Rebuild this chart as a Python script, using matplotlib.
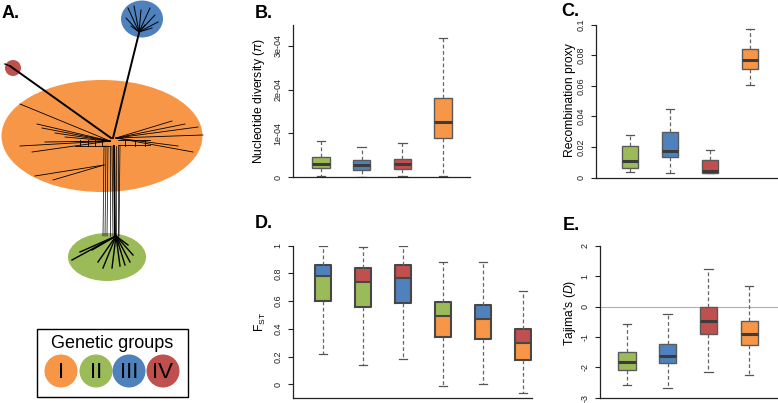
import matplotlib
matplotlib.use('Agg')
import matplotlib.pyplot as plt
from matplotlib.patches import Ellipse, Circle, Rectangle

plt.rcParams['font.family'] = ['Liberation Sans', 'DejaVu Sans']
plt.rcParams['mathtext.fontset'] = 'custom'
plt.rcParams['mathtext.rm'] = 'Liberation Sans'
plt.rcParams['mathtext.it'] = 'Liberation Sans:italic'

W, H = 778, 403
ORANGE = '#F79646'; GREEN = '#9BBB59'; BLUE = '#4F81BD'; RED = '#C0504D'
COL = {'I': ORANGE, 'II': GREEN, 'III': BLUE, 'IV': RED}

# ---------------- data ----------------
groups = ['I', 'II', 'III', 'IV']
box_groups = ['II', 'III', 'IV', 'I']

# B. nucleotide diversity
pi_whislo = [0.2e-5, 0.1e-5, 0.2e-5, 0.2e-5]
pi_q1 = [0.21e-4, 0.16e-4, 0.18e-4, 0.90e-4]
pi_med = [0.30e-4, 0.27e-4, 0.29e-4, 1.27e-4]
pi_q3 = [0.46e-4, 0.38e-4, 0.42e-4, 1.81e-4]
pi_whishi = [0.82e-4, 0.68e-4, 0.78e-4, 3.18e-4]
pi_ticks = [0, 1e-4, 2e-4, 3e-4]
pi_ticklabels = ['0', '1e-04', '2e-04', '3e-04']

# C. recombination proxy
rec_whislo = [0.0039, 0.0030, 0.0030, 0.0603]
rec_q1 = [0.0065, 0.0135, 0.0033, 0.0710]
rec_med = [0.0111, 0.0174, 0.0044, 0.0769]
rec_q3 = [0.0205, 0.0300, 0.0113, 0.0841]
rec_whishi = [0.0277, 0.0451, 0.0183, 0.0972]
rec_ticks = [0, 0.02, 0.04, 0.06, 0.08, 0.1]
rec_ticklabels = ['0', '0.02', '0.04', '0.06', '0.08', '0.1']

# D. FST (upper colour / lower colour)
fst_upper = ['III', 'IV', 'IV', 'II', 'III', 'IV']
fst_lower = ['II', 'II', 'III', 'I', 'I', 'I']
fst_whislo = [0.22, 0.137, 0.185, -0.01, 0.0, -0.065]
fst_q1 = [0.60, 0.555, 0.59, 0.344, 0.33, 0.175]
fst_med = [0.78, 0.735, 0.77, 0.495, 0.473, 0.30]
fst_q3 = [0.86, 0.84, 0.86, 0.596, 0.572, 0.40]
fst_whishi = [1.0, 0.99, 1.0, 0.88, 0.882, 0.675]
fst_ticks = [0, 0.2, 0.4, 0.6, 0.8, 1.0]
fst_ticklabels = ['0', '0.2', '0.4', '0.6', '0.8', '1']

# E. Tajima's D
taj_whislo = [-2.57, -2.67, -2.16, -2.26]
taj_q1 = [-2.09, -1.87, -0.91, -1.27]
taj_med = [-1.84, -1.62, -0.49, -0.90]
taj_q3 = [-1.49, -1.24, -0.03, -0.47]
taj_whishi = [-0.58, -0.26, 1.22, 0.69]
taj_ticks = [-3, -2, -1, 0, 1, 2]
taj_ticklabels = ['-3', '-2', '-1', '0', '1', '2']

# A. network (panel pixel coordinates)
thick_x0 = [113, 111, 114]
thick_y0 = [138, 138, 146]
thick_x1 = [139, 10, 115]
thick_y1 = [33, 66, 236]
blue_fan_x = [128, 134, 141, 150, 155, 158, 152, 126, 131, 145]
blue_fan_y = [8, 6, 10, 8, 15, 22, 28, 18, 26, 25]
orange_left_x = [20, 37, 42, 55, 20, 45, 65, 32]
orange_left_y = [104, 124, 128, 133, 146, 142, 137, 152]
orange_low_x = [35, 53]
orange_low_y = [176, 180]
orange_right_x = [172, 185, 198, 203, 193, 178]
orange_right_y = [121, 124, 127, 135, 152, 146]
trunk_top_x = [104, 106, 108, 110, 112, 116, 118, 120]
trunk_bot_x = [103, 105, 107, 110, 113, 116, 118, 119]
green_fan_x = [72, 80, 92, 98, 103, 112, 120, 125, 130, 133, 128]
green_fan_y = [260, 252, 250, 262, 268, 268, 266, 265, 262, 255, 245]

fig = plt.figure(figsize=(W / 100, H / 100), dpi=100)


def add_ax(x0, y0, x1, y1):
    return fig.add_axes([x0 / W, 1 - y1 / H, (x1 - x0) / W, (y1 - y0) / H])


def ftext(x, y, s, **kw):
    fig.text(x / W, 1 - y / H, s, **kw)


def style_ax(ax, xlim, ylim, ticks, labels):
    ax.set_xlim(xlim)
    ax.set_ylim(ylim)
    for s in ['top', 'right']:
        ax.spines[s].set_visible(False)
    for s in ['left', 'bottom']:
        ax.spines[s].set_linewidth(0.9)
        ax.spines[s].set_color('#222222')
    ax.set_xticks([])
    ax.set_yticks(ticks)
    ax.set_yticklabels(labels, rotation=90, va='center', fontsize=6.5)
    ax.tick_params(axis='y', length=3.6, width=0.8, pad=4, direction='out', colors='#222222')
    ax.patch.set_visible(False)


def make_stats(lo, q1, med, q3, hi):
    return [dict(whislo=a, q1=b, med=c, q3=d, whishi=e, fliers=[])
            for a, b, c, d, e in zip(lo, q1, med, q3, hi)]


def simple_box(ax, stats, colors):
    pos = list(range(1, len(stats) + 1))
    bp = ax.bxp(stats, positions=pos, widths=0.42, patch_artist=True, showfliers=False,
                boxprops=dict(edgecolor='#5a5a5a', linewidth=1.0),
                medianprops=dict(color='#3c3c3c', linewidth=2.2, solid_capstyle='butt'),
                whiskerprops=dict(color='#666666', linestyle=(0, (3, 2)), linewidth=0.9),
                capprops=dict(color='#555555', linewidth=0.9),
                capwidths=0.21)
    for patch, c in zip(bp['boxes'], colors):
        patch.set_facecolor(c)


# ---------------- Panel A ----------------
axA = add_ax(0, 0, 230, 403)
axA.set_xlim(0, 230)
axA.set_ylim(403, 0)
axA.axis('off')
axA.add_patch(Ellipse((102, 136), 201, 112, color=ORANGE, lw=0, zorder=1))
axA.add_patch(Ellipse((142, 19), 42, 37, color=BLUE, lw=0, zorder=1))
axA.add_patch(Circle((13, 68), 8, color=RED, lw=0, zorder=1))
axA.add_patch(Ellipse((107, 257), 78, 48, color=GREEN, lw=0, zorder=1))
for a, b, c, d in zip(thick_x0, thick_y0, thick_x1, thick_y1):
    axA.plot([a, c], [b, d], color='black', lw=1.4, zorder=3)
for x, y in zip(blue_fan_x, blue_fan_y):
    axA.plot([139, x], [32, y], color='black', lw=0.7, zorder=3)
axA.plot([10, 5], [66, 64], color='black', lw=1.0, zorder=3)
for x, y in zip(orange_left_x, orange_left_y):
    axA.plot([110, x], [141, y], color='black', lw=0.6, zorder=3)
for x, y in zip(orange_low_x, orange_low_y):
    axA.plot([104, x], [165, y], color='black', lw=0.6, zorder=3)
for x, y in zip(orange_right_x, orange_right_y):
    axA.plot([116, x], [138, y], color='black', lw=0.6, zorder=3)
for yy in [141, 146]:
    axA.plot([75, 110], [yy, yy], color='black', lw=0.6, zorder=3)
for yy in [140, 145]:
    axA.plot([118, 150], [yy, yy], color='black', lw=0.6, zorder=3)
for xx in [80, 88, 95, 102, 125, 135, 145]:
    axA.plot([xx, xx], [140, 146], color='black', lw=0.6, zorder=3)
for xt, xb in zip(trunk_top_x, trunk_bot_x):
    axA.plot([xt, xb], [146, 236], color='black', lw=0.5, zorder=3)
for x, y in zip(green_fan_x, green_fan_y):
    axA.plot([116, x], [236, y], color='black', lw=1.0, zorder=3)

# legend
axA.add_patch(Rectangle((37, 329), 151, 68, fill=False, ec='black', lw=1.0, zorder=3))
axA.text(112.5, 343, 'Genetic groups', fontsize=13, ha='center', va='center')
leg_x = [61, 96, 129, 163]
for x, g in zip(leg_x, groups):
    axA.add_patch(Circle((x, 371), 16.5, color=COL[g], lw=0, zorder=2))
    axA.text(x, 372, g, fontsize=16, ha='center', va='center', zorder=4)

# ---------------- Panel B ----------------
axB = add_ax(293, 25, 470, 177)
simple_box(axB, make_stats(pi_whislo, pi_q1, pi_med, pi_q3, pi_whishi), [COL[g] for g in box_groups])
style_ax(axB, (0.312, 4.663), (0, 3.48e-4), pi_ticks, pi_ticklabels)

# ---------------- Panel C ----------------
axC = add_ax(596, 24.7, 778, 177.7)
simple_box(axC, make_stats(rec_whislo, rec_q1, rec_med, rec_q3, rec_whishi), [COL[g] for g in box_groups])
style_ax(axC, (0.15, 4.7), (0, 0.1), rec_ticks, rec_ticklabels)

# ---------------- Panel D ----------------
axD = add_ax(293, 245.7, 532, 398)
posD = list(range(1, len(fst_med) + 1))
lo_h = [m - q for m, q in zip(fst_med, fst_q1)]
up_h = [q - m for q, m in zip(fst_q3, fst_med)]
axD.bar(posD, lo_h, bottom=fst_q1, width=0.42, color=[COL[g] for g in fst_lower], zorder=1.5)
axD.bar(posD, up_h, bottom=fst_med, width=0.42, color=[COL[g] for g in fst_upper], zorder=1.5)
axD.bxp(make_stats(fst_whislo, fst_q1, fst_med, fst_q3, fst_whishi), positions=posD, widths=0.42,
        showfliers=False,
        boxprops=dict(color='#474747', linewidth=1.5),
        medianprops=dict(color='#474747', linewidth=1.5),
        whiskerprops=dict(color='#666666', linestyle=(0, (3, 2)), linewidth=0.9),
        capprops=dict(color='#555555', linewidth=0.9), capwidths=0.21)
style_ax(axD, (0.25, 6.225), (-0.099, 1.0), fst_ticks, fst_ticklabels)

# ---------------- Panel E ----------------
axE = add_ax(600, 245.7, 778, 397.7)
axE.axhline(0, color='#b0b0b0', lw=0.8, zorder=0.5)
simple_box(axE, make_stats(taj_whislo, taj_q1, taj_med, taj_q3, taj_whishi), [COL[g] for g in box_groups])
style_ax(axE, (0.336, 4.71), (-3, 2), taj_ticks, taj_ticklabels)

# ---------------- labels ----------------
ftext(259, 101, r'Nucleotide diversity ($\it{π}$)', rotation=90, fontsize=8.7, ha='center', va='center')
ftext(570, 100, 'Recombination proxy', rotation=90, fontsize=8.7, ha='center', va='center')
ftext(260, 322, r'F$_{\mathrm{ST}}$', rotation=90, fontsize=8.7, ha='center', va='center')
ftext(570, 313, r"Tajima's ($\it{D}$)", rotation=90, fontsize=8.7, ha='center', va='center')

for x, y, s in [(2, 13, 'A.'), (255, 13, 'B.'), (561, 11.5, 'C.'), (255, 224, 'D.'), (563, 225, 'E.')]:
    ftext(x, y, s, fontsize=13, fontweight='bold', ha='left', va='center')

fig.savefig('out.png', dpi=100)
